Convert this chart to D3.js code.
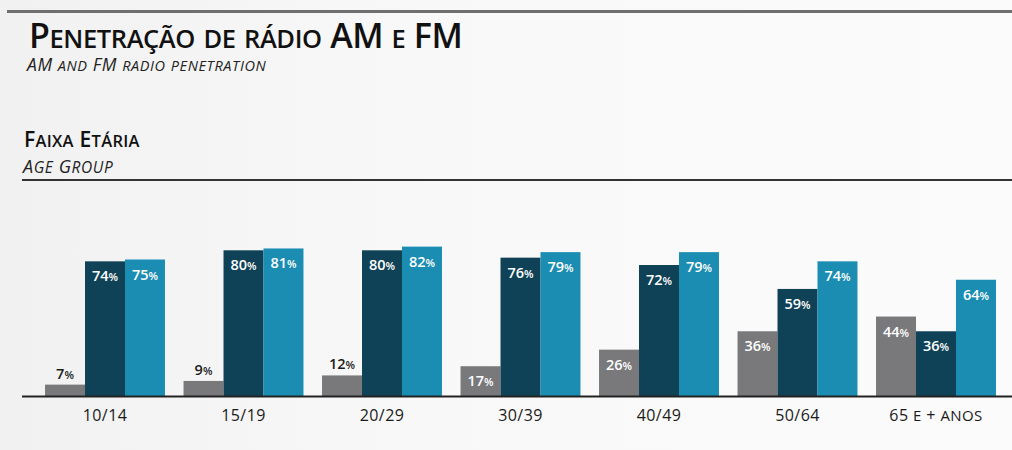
<!DOCTYPE html>
<html>
<head>
<meta charset="utf-8">
<script src="https://cdn.jsdelivr.net/npm/d3@7"></script>
<style>
  body { margin: 0; background: #fff; }
  svg { display: block; font-family: "Open Sans", "Noto Sans", sans-serif; }
</style>
</head>
<body>
<svg id="chart"></svg>
<script>
var categories = ["10/14", "15/19", "20/29", "30/39", "40/49", "50/64", "65 e + anos"];
var grayValues = [7, 9, 12, 17, 26, 36, 44];
var darkValues = [74, 80, 80, 76, 72, 59, 36];
var lightValues = [75, 81, 82, 79, 79, 74, 64];
var seriesNames = ["gray", "dark", "light"];
var seriesColors = ["#79797c", "#0f4256", "#1b8db3"];

var width = 1012;
var height = 450;
var baseline = 396;

var svg = d3.select("#chart")
  .attr("width", width)
  .attr("height", height);

// faint paper background
var defs = svg.append("defs");
var grad = defs.append("linearGradient").attr("id", "bg");
grad.append("stop").attr("offset", "0%").attr("stop-color", "#f1f1f1");
grad.append("stop").attr("offset", "40%").attr("stop-color", "#f8f8f8");
grad.append("stop").attr("offset", "100%").attr("stop-color", "#fbfbfb");
svg.append("rect").attr("width", width).attr("height", height).attr("fill", "url(#bg)");

// small caps: upper case letters full size, lower case shown as smaller capitals
function smallCaps(sel, str, big, small) {
  var parts = str.match(/([^a-zà-ÿ]+|[a-zà-ÿ]+)/g);
  parts.forEach(function(p) {
    var lower = /[a-zà-ÿ]/.test(p);
    sel.append("tspan")
      .attr("font-size", lower ? small : big)
      .text(lower ? p.toUpperCase() : p);
  });
}

// rules
svg.append("line")
  .attr("x1", 7).attr("x2", width).attr("y1", 11.5).attr("y2", 11.5)
  .attr("stroke", "#6f6f6f").attr("stroke-width", 3);
svg.append("line")
  .attr("x1", 22).attr("x2", width).attr("y1", 180).attr("y2", 180)
  .attr("stroke", "#333").attr("stroke-width", 2);

// titles
var title = svg.append("text").attr("x", 29).attr("y", 48)
  .attr("fill", "#111").attr("font-weight", 600)
  .attr("letter-spacing", -0.4);
smallCaps(title, "Penetração de rádio AM e FM", 34, 25.5);

var sub = svg.append("text").attr("x", 27).attr("y", 71)
  .attr("fill", "#222").attr("font-style", "italic")
  .attr("letter-spacing", 0.6);
smallCaps(sub, "AM and FM radio penetration", 17.5, 14.5);

var sec = svg.append("text").attr("x", 24).attr("y", 147)
  .attr("fill", "#111").attr("font-weight", 600)
  .attr("letter-spacing", 0.3);
smallCaps(sec, "Faixa Etária", 21, 16.5);

var sec2 = svg.append("text").attr("x", 23).attr("y", 173)
  .attr("fill", "#222").attr("font-style", "italic")
  .attr("letter-spacing", 0.6);
smallCaps(sec2, "Age Group", 18, 15.5);

// scales
var x = d3.scaleBand()
  .domain(categories)
  .range([35.75, 1005.25])
  .paddingInner(0.134)
  .paddingOuter(0.067);

var xs = d3.scaleBand()
  .domain(seriesNames)
  .range([0, x.bandwidth()]);

var y = d3.scaleLinear()
  .domain([0, 100])
  .range([397.5, 213.5]);

var rows = categories.map(function(c, i) {
  return { cat: c, values: [grayValues[i], darkValues[i], lightValues[i]] };
});

var groups = svg.selectAll("g.grp")
  .data(rows)
  .enter().append("g")
  .attr("class", "grp")
  .attr("transform", function(d) { return "translate(" + x(d.cat) + ",0)"; });

var bars = groups.selectAll("g.bar")
  .data(function(d) {
    return d.values.map(function(v, j) { return { s: seriesNames[j], v: v, j: j }; });
  })
  .enter().append("g").attr("class", "bar");

bars.append("rect")
  .attr("x", function(d) { return xs(d.s); })
  .attr("y", function(d) { return y(d.v); })
  .attr("width", xs.bandwidth())
  .attr("height", function(d) { return baseline - y(d.v); })
  .attr("fill", function(d) { return seriesColors[d.j]; });

var labels = bars.append("text")
  .attr("x", function(d) { return xs(d.s) + xs.bandwidth() / 2; })
  .attr("y", function(d) {
    return d.v < 15 ? y(d.v) - 6 : y(d.v) + 20;
  })
  .attr("text-anchor", "middle")
  .attr("font-weight", 600)
  .attr("fill", function(d) { return d.v < 15 ? "#1a1a1a" : "#fff"; });
labels.append("tspan").attr("font-size", 14.5).text(function(d) { return d.v; });
labels.append("tspan").attr("font-size", 11).text("%");

// axis
svg.append("line")
  .attr("x1", 22).attr("x2", width).attr("y1", baseline + 0.5).attr("y2", baseline + 0.5)
  .attr("stroke", "#222").attr("stroke-width", 2);

var axis = svg.append("g")
  .attr("transform", "translate(0," + baseline + ")")
  .call(d3.axisBottom(x).tickSize(0).tickPadding(0));
axis.select(".domain").remove();
axis.selectAll(".tick text").each(function(d) {
  var t = d3.select(this).text("")
    .attr("y", 25)
    .attr("dy", null)
    .attr("fill", "#1a1a1a")
    .attr("letter-spacing", 0.4)
    .attr("font-family", "\"Open Sans\", \"Noto Sans\", sans-serif");
  smallCaps(t, d, 16, 15);
});
</script>
</body>
</html>
